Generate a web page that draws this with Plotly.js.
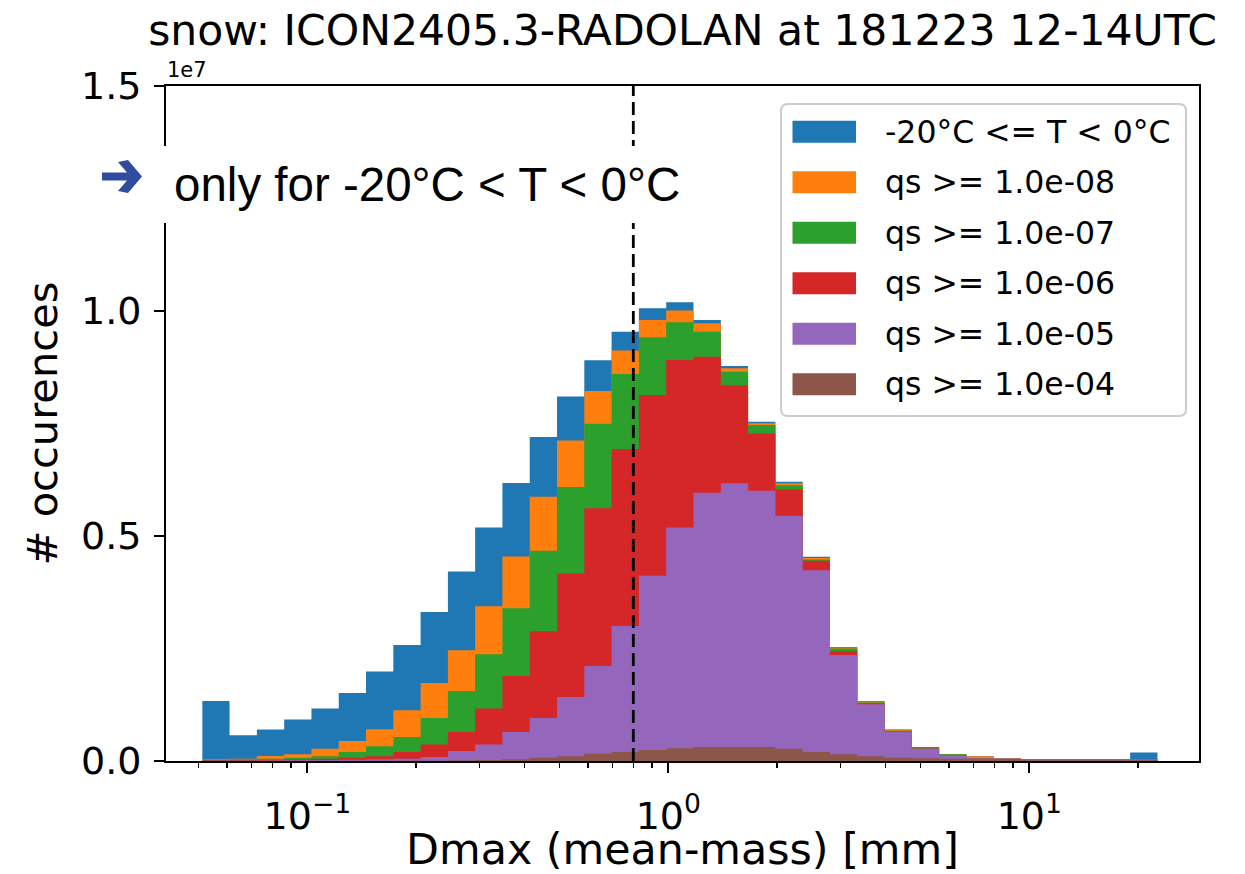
<!DOCTYPE html>
<html>
<head>
<meta charset="utf-8">
<script src="https://cdn.plot.ly/plotly-3.0.1.min.js"></script>
<style>html,body{margin:0;padding:0;background:#fff;}#chart{width:1245px;height:874px;}</style>
</head>
<body>
<div id="chart"></div>
<script>
// Bin edges of Dmax (mean-mass) [mm], log-spaced histogram bins
const binEdges = [0.0512, 0.0609, 0.0725, 0.0863, 0.1027, 0.1222, 0.1454, 0.1731, 0.2060, 0.2452,
  0.2917, 0.3472, 0.4132, 0.4918, 0.5853, 0.6966, 0.8291, 0.9867, 1.1743, 1.3977,
  1.6634, 1.9797, 2.3562, 2.8043, 3.3373, 3.9719, 4.7273, 5.6261, 6.6962, 7.9697,
  9.4842, 11.288, 13.434, 15.990, 19.030, 22.646];

const seriesNames = ["-20°C <= T < 0°C", "qs >= 1.0e-08", "qs >= 1.0e-07", "qs >= 1.0e-06", "qs >= 1.0e-05", "qs >= 1.0e-04"];

// counts per bin (# occurences)
const countsT = [1335000, 570000, 700000, 920000, 1165000, 1510000, 1990000, 2580000, 3310000, 4210000,
  5190000, 6180000, 7200000, 8100000, 8905000, 9540000, 10060000, 10196000, 9800000, 8780000,
  7540000, 6206000, 4537000, 2536000, 1335000, 700000, 310000, 150000, 105000, 50000,
  40000, 40000, 40000, 40000, 187000];
const countsQs8 = [40000, 50000, 110000, 150000, 275000, 445000, 705000, 1130000, 1735000, 2460000,
  3440000, 4545000, 5870000, 7120000, 8220000, 9120000, 9800000, 10010000, 9730000, 8727000,
  7504000, 6170000, 4510000, 2520000, 1320000, 700000, 310000, 150000, 105000, 50000,
  40000, 40000, 40000, 40000, 40000];
const countsQs7 = [30000, 40000, 50000, 70000, 105000, 200000, 330000, 535000, 957000, 1557000,
  2370000, 3396000, 4670000, 6090000, 7496000, 8600000, 9417000, 9750000, 9540000, 8650000,
  7467000, 6130000, 4480000, 2500000, 1300000, 670000, 310000, 150000, 55000, 50000,
  40000, 40000, 40000, 40000, 40000];
const countsQs6 = [15000, 15000, 20000, 40000, 50000, 70000, 105000, 200000, 365000, 645000,
  1165000, 1890000, 2885000, 4168000, 5614000, 6933000, 8134000, 8910000, 8986000, 8350000,
  7280000, 6040000, 4450000, 2440000, 1280000, 660000, 280000, 130000, 55000, 50000,
  40000, 40000, 40000, 40000, 40000];
const countsQs5 = [5000, 8000, 10000, 15000, 20000, 30000, 40000, 50000, 90000, 220000,
  365000, 645000, 957000, 1420000, 2110000, 3000000, 4115000, 5190000, 5960000, 6170000,
  6005000, 5450000, 4240000, 2358000, 1260000, 650000, 270000, 125000, 55000, 50000,
  40000, 40000, 40000, 40000, 40000];
const countsQs4 = [2000, 2000, 2000, 2000, 3000, 3000, 4000, 5000, 6000, 10000,
  20000, 40000, 70000, 105000, 163000, 200000, 245000, 285000, 310000, 310000,
  310000, 275000, 200000, 150000, 105000, 75000, 60000, 50000, 40000, 50000,
  15000, 15000, 15000, 15000, 15000];

const colors = ["#1f77b4", "#ff7f0e", "#2ca02c", "#d62728", "#9467bd", "#8c564b"];
const allCounts = [countsT, countsQs8, countsQs7, countsQs6, countsQs5, countsQs4];

const xTickVals = [0.1, 1, 10];
const xTickText = ["10<sup>\u22121</sup>", "10<sup>0</sup>", "10<sup>1</sup>"];
const xMinorVals = [0.05, 0.06, 0.07, 0.08, 0.09, 0.2, 0.3, 0.4, 0.5, 0.6, 0.7, 0.8, 0.9, 2, 3, 4, 5, 6, 7, 8, 9, 20];
const yTickVals = [0, 5000000, 10000000, 15000000];
const yTickText = ["0.0", "0.5", "1.0", "1.5"];
const dmaxThreshold = 0.8;

// ---- layout geometry (pixels) ----
const W = 1245, H = 874, L = 166, R = 1199, T = 86, B = 761;
const px = x => (x - L) / (R - L);
const py = y => (B - y) / (B - T);

const traces = allCounts.map((vals, i) => ({
  type: "scatter",
  mode: "lines",
  name: seriesNames[i],
  x: binEdges,
  y: vals.concat([vals[vals.length - 1]]),
  line: {shape: "hv", width: 0, color: colors[i]},
  fill: "tozeroy",
  fillcolor: colors[i],
  showlegend: false,
  hoverinfo: "x+y+name"
}));
traces.push({
  type: "scatter", mode: "lines", name: "threshold",
  x: [dmaxThreshold, dmaxThreshold], y: [0, 15000000],
  line: {color: "#000", width: 2.8, dash: "13px,6px"},
  showlegend: false, hoverinfo: "skip"
});

const F = "DejaVu Sans";
const shapes = [];
const annotations = [];

// legend box (rounded)
function roundRectPath(x0, y0, x1, y1, r) {
  const P = (x, y) => px(x) + "," + py(y);
  return "M" + P(x0 + r, y0) + " L" + P(x1 - r, y0) + " Q" + P(x1, y0) + " " + P(x1, y0 + r) +
    " L" + P(x1, y1 - r) + " Q" + P(x1, y1) + " " + P(x1 - r, y1) +
    " L" + P(x0 + r, y1) + " Q" + P(x0, y1) + " " + P(x0, y1 - r) +
    " L" + P(x0, y0 + r) + " Q" + P(x0, y0) + " " + P(x0 + r, y0) + " Z";
}
shapes.push({type: "path", xref: "paper", yref: "paper", path: roundRectPath(781, 104, 1186, 416, 7),
  fillcolor: "rgba(255,255,255,0.8)", line: {color: "#cccccc", width: 2}, layer: "above"});
const escapeTxt = s => s.replace(/</g, "&lt;").replace(/>/g, "&gt;");
seriesNames.forEach((nm, i) => {
  const cy = 131.7 + i * 50.5;
  shapes.push({type: "rect", xref: "paper", yref: "paper",
    x0: px(792.5), x1: px(856), y0: py(cy - 11), y1: py(cy + 11),
    fillcolor: colors[i], line: {width: 0}, layer: "above"});
  annotations.push({xref: "paper", yref: "paper", x: px(883), y: py(cy), xanchor: "left", yanchor: "middle",
    text: escapeTxt(nm), showarrow: false, font: {family: F, size: 31.5, color: "#000"}});
});

// offset text 1e7
annotations.push({xref: "paper", yref: "paper", x: px(165), y: py(70), xanchor: "left", yanchor: "middle",
  text: "1e7", showarrow: false, font: {family: F, size: 21, color: "#000"}});

// note with arrow
annotations.push({xref: "paper", yref: "paper", x: px(162), y: py(184), xanchor: "left", yanchor: "middle",
  text: "only for -20°C &lt; T &lt; 0°C", showarrow: false, bgcolor: "#ffffff", borderpad: 12, borderwidth: 0,
  font: {family: "Liberation Sans, Arial", size: 47.5, color: "#000"}});
(function () {
  const pts = [[102, 172.5], [127, 172.5], [118, 162], [128, 160], [142, 176.5], [128, 193], [118, 191], [127, 180.5], [102, 180.5]];
  const path = "M" + pts.map(p => px(p[0]) + "," + py(p[1])).join(" L") + " Z";
  shapes.push({type: "path", xref: "paper", yref: "paper", path: path, fillcolor: "#2f4d9f", line: {width: 0}, layer: "above"});
})();

const layout = {
  width: W, height: H,
  paper_bgcolor: "#ffffff", plot_bgcolor: "#ffffff",
  margin: {l: L, r: W - R, t: T, b: H - B, pad: 0},
  showlegend: false,
  font: {family: F, color: "#000"},
  title: {text: "snow: ICON2405.3-RADOLAN at 181223 12-14UTC", font: {family: F, size: 42.5, color: "#000"},
    x: 0.5, xref: "paper", xanchor: "center", y: 1 - 30 / H, yref: "container", yanchor: "middle"},
  xaxis: {
    type: "log", range: [-1.3914, 1.4701], showgrid: false, zeroline: false,
    showline: true, linecolor: "#000", linewidth: 2, mirror: true,
    ticks: "outside", ticklen: 10, tickwidth: 2, tickcolor: "#000",
    tickmode: "array", tickvals: xTickVals, ticktext: xTickText,
    tickfont: {family: F, size: 38, color: "#000"}, ticklabelstandoff: 10,
    minor: {tickmode: "array", tickvals: xMinorVals, ticks: "outside", ticklen: 5, tickwidth: 1.5, tickcolor: "#000", showgrid: false},
    title: {text: "Dmax (mean-mass) [mm]", font: {family: F, size: 42.8, color: "#000"}, standoff: 15},
    automargin: false
  },
  yaxis: {
    range: [0, 15000000], showgrid: false, zeroline: false,
    showline: true, linecolor: "#000", linewidth: 2, mirror: true,
    ticks: "outside", ticklen: 10, tickwidth: 2, tickcolor: "#000",
    tickmode: "array", tickvals: yTickVals, ticktext: yTickText,
    tickfont: {family: F, size: 38, color: "#000"}, ticklabelstandoff: 5,
    title: {text: "# occurences", font: {family: F, size: 41.6, color: "#000"}, standoff: 10},
    automargin: false
  },
  shapes: shapes,
  annotations: annotations
};

Plotly.newPlot("chart", traces, layout, {displayModeBar: false, staticPlot: true});
</script>
</body>
</html>
